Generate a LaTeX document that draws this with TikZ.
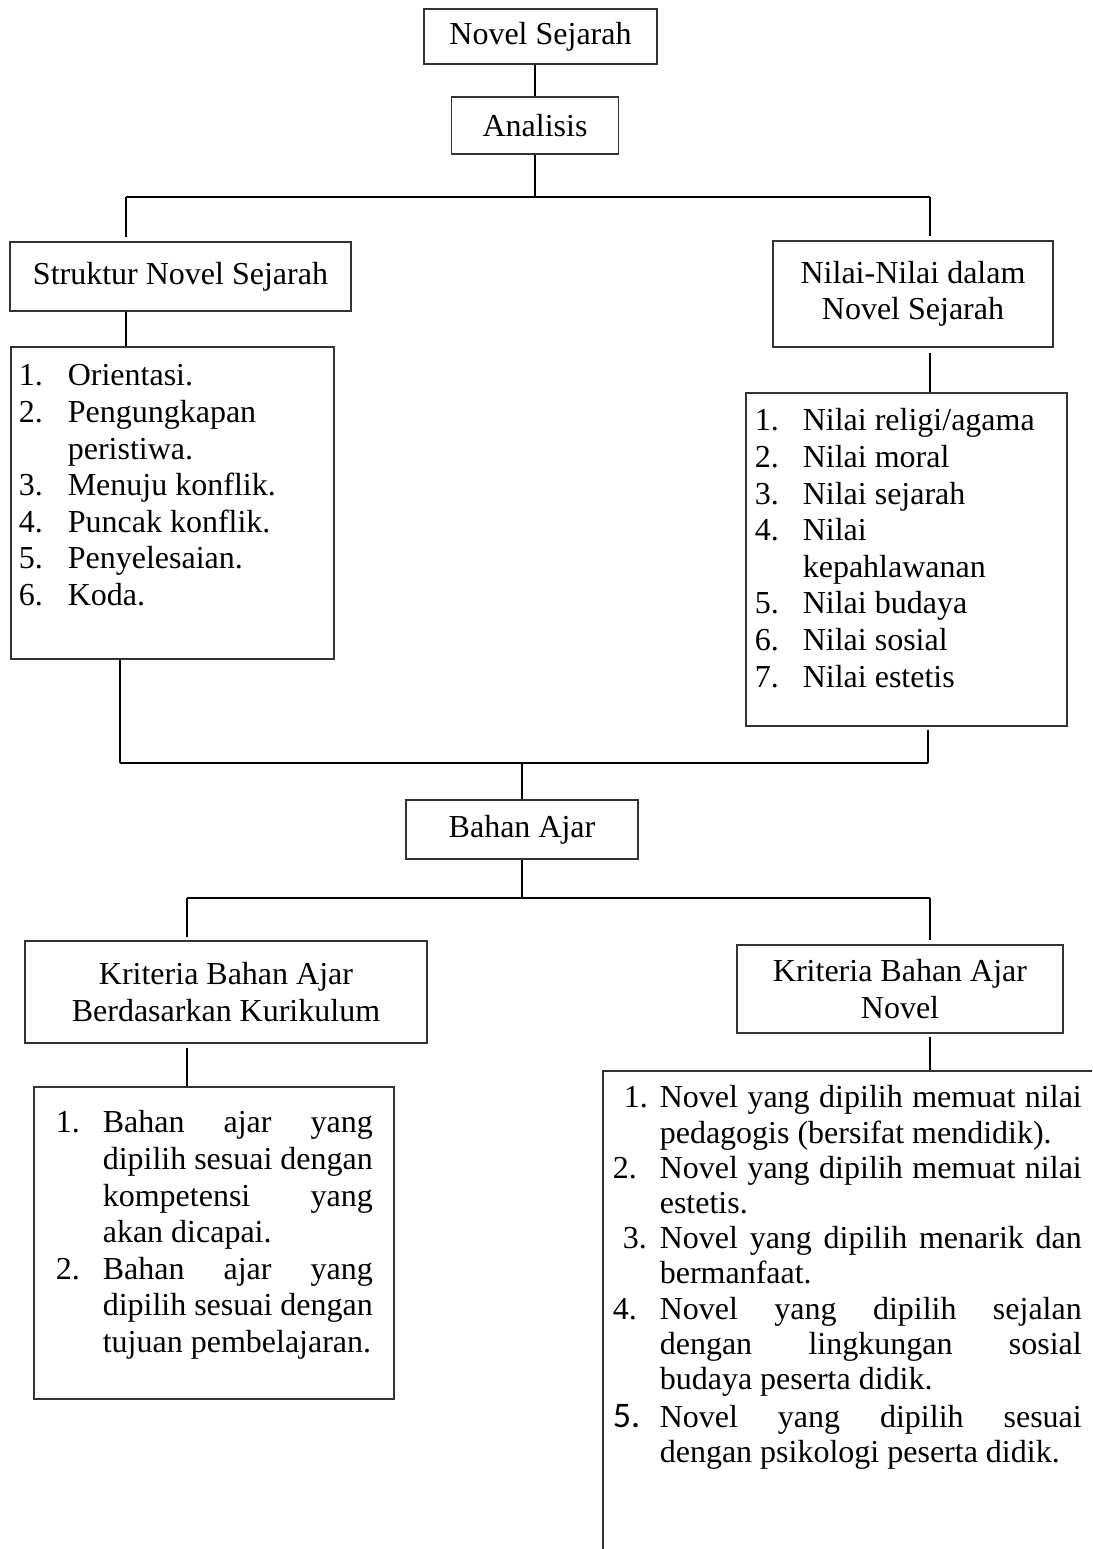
\documentclass[tikz,border=0pt]{standalone}
\usepackage{fontspec}
\setmainfont{Liberation Serif}
\newfontfamily\calfont{Carlito}
\usepackage{tikz}

\newlength{\numw}
\newcommand{\li}[3][0pt]{\par\noindent\hangindent=\numw\hangafter=1%
  \makebox[\numw][l]{\hspace*{#1}#2}#3}

\begin{document}
\begin{tikzpicture}[x=1pt,y=-1pt,
  box/.style={draw=black!80,line width=1.6pt,inner sep=0pt,align=center,
    font=\fontsize{32}{36.6}\selectfont},
  listbox/.style={draw=black!80,line width=1.6pt,inner sep=0pt,anchor=north west,
    font=\fontsize{32}{36.6}\selectfont},
  link/.style={line width=1.8pt},
  bar/.style={line width=2.6pt}]
\useasboundingbox (0,0) rectangle (1092,1549);
\clip (0,0) rectangle (1092,1549);

% Title and analysis
\node[box,minimum width=233pt,minimum height=55pt] (ns) at (540.5,36.5) {Novel Sejarah};
\node[box,minimum width=167pt,minimum height=57pt] (an) at (535,125.5) {Analisis};

% Structure and values
\node[box,minimum width=341pt,minimum height=69pt] (sn) at (180.5,276.5) {Struktur Novel Sejarah};
\node[box,minimum width=280pt,minimum height=106pt] (nn) at (913,294) {Nilai-Nilai dalam\\Novel Sejarah};

\node[listbox] (sl) at (10,346) {\parbox[t][312pt][t]{323pt}{\raggedright
  \leftskip=8pt\setlength{\numw}{49pt}%
  \li{1.}{\rule{0pt}{39pt}Orientasi.}
  \li{2.}{Pengungkapan\newline peristiwa.}
  \li{3.}{Menuju konflik.}
  \li{4.}{Puncak konflik.}
  \li{5.}{Penyelesaian.}
  \li{6.}{Koda.}}};

\node[listbox] (nl) at (745,392) {\parbox[t][333pt][t]{321pt}{\raggedright
  \leftskip=9pt\setlength{\numw}{48pt}%
  \li{1.}{\rule{0pt}{38pt}Nilai religi/agama}
  \li{2.}{Nilai moral}
  \li{3.}{Nilai sejarah}
  \li{4.}{Nilai\newline kepahlawanan}
  \li{5.}{Nilai budaya}
  \li{6.}{Nilai sosial}
  \li{7.}{Nilai estetis}}};

% Teaching material
\node[box,minimum width=232pt,minimum height=59pt] (ba) at (522,829.5) {Bahan Ajar};

\node[box,minimum width=402pt,minimum height=102pt] (kl) at (226,992) {Kriteria Bahan Ajar\\Berdasarkan Kurikulum};
\node[box,minimum width=326pt,minimum height=88pt] (kr) at (900,989) {Kriteria Bahan Ajar\\Novel};

\node[listbox] (ll) at (33,1086) {\parbox[t][312pt][t]{360pt}{%
  \leftskip=22pt\rightskip=21pt\setlength{\numw}{47pt}%
  \li{1.}{\rule{0pt}{46pt}Bahan ajar yang\linebreak dipilih sesuai dengan\linebreak
    kompetensi yang\linebreak akan dicapai.}
  \li{2.}{Bahan ajar yang\linebreak dipilih sesuai dengan\linebreak
    tujuan pembelajaran.}}};

\node[listbox] (rl) at (602,1070) {\parbox[t][530pt][t]{520pt}{%
  \fontsize{32}{35.2}\selectfont
  \leftskip=10pt\rightskip=41pt\setlength{\numw}{47pt}%
  \li[11pt]{1.}{\rule{0pt}{37pt}Novel yang dipilih memuat nilai\linebreak
    pedagogis (bersifat mendidik).}
  \li{2.}{Novel yang dipilih memuat nilai\linebreak estetis.}
  \li[10pt]{3.}{Novel yang dipilih menarik dan\linebreak bermanfaat.}
  \li{4.}{Novel yang dipilih sejalan\linebreak dengan lingkungan sosial\linebreak
    budaya peserta didik.}
  \par\vspace{3pt}%
  \li{{\calfont\fontsize{36}{35.2}\selectfont 5.}}{Novel yang dipilih sesuai\linebreak
    dengan psikologi peserta didik.}}};

% Branch points
\coordinate (ha) at (126,197);
\coordinate (hb) at (930,197);
\coordinate (hc) at (120,763);
\coordinate (hd) at (928,763);
\coordinate (he) at (187,898);
\coordinate (hf) at (930,898);

% Upper connectors
\draw[link] (an.north |- ns.south) -- (an.north);
\draw[link] (an.south) -- (an.south |- ha);
\draw[bar] (ha) -- (hb);
\draw[link,shorten >=4pt] (ha) -- (ha |- sn.north);
\draw[link,shorten >=4pt] (hb) -- (hb |- nn.north);
\draw[link] (ha |- sn.south) -- (ha |- sl.north);
\draw[link,shorten <=5pt] (hb |- nn.south) -- (hb |- nl.north);

% Joining to teaching material
\draw[link] (hc |- sl.south) -- (hc);
\draw[link,shorten <=3pt] (hd |- nl.south) -- (hd);
\draw[bar] (hc) -- (hd);
\draw[link] (ba.north |- hc) -- (ba.north);

% Lower connectors
\draw[link] (ba.south) -- (ba.south |- he);
\draw[link] (he) -- (hf);
\draw[link,shorten >=3pt] (he) -- (he |- kl.north);
\draw[link,shorten >=4pt] (hf) -- (hf |- kr.north);
\draw[link,shorten <=4pt] (he |- kl.south) -- (he |- ll.north);
\draw[link,shorten <=3pt] (hf |- kr.south) -- (hf |- rl.north);
\end{tikzpicture}
\end{document}
